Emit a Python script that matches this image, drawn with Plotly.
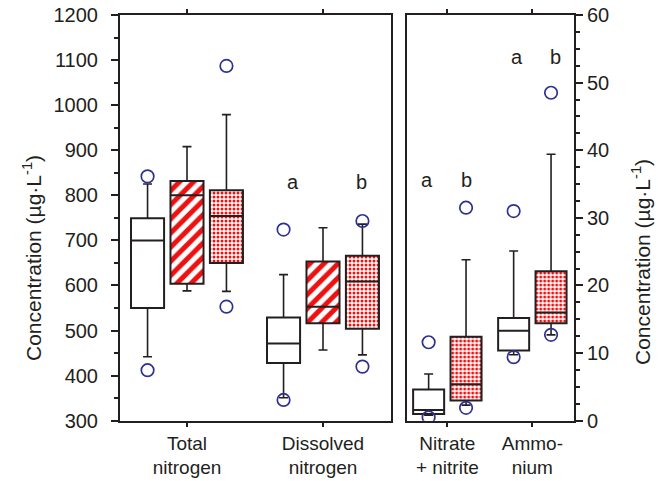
import plotly.graph_objects as go

# ---------------- data ----------------
left_categories = ["Total<br>nitrogen", "Dissolved<br>nitrogen"]
right_categories = ["Nitrate<br>+ nitrite", "Ammo-<br>nium"]

# Left panel (µg/L): values for [Total nitrogen, Dissolved nitrogen]
plain_low = [442, 351]
plain_q1 = [550, 428]
plain_med = [700, 471]
plain_q3 = [749, 529]
plain_high = [825, 624]
plain_out = [[842, 412], [724, 346]]

hatch_low = [588, 457]
hatch_q1 = [604, 516]
hatch_med = [800, 553]
hatch_q3 = [832, 653]
hatch_high = [908, 728]
hatch_out = [[], []]

dot_low = [587, 446]
dot_q1 = [650, 504]
dot_med = [754, 609]
dot_q3 = [811, 666]
dot_high = [979, 736]
dot_out = [[1087, 553], [743, 420]]

# Right panel (µg/L): values for [Nitrate + nitrite, Ammonium]
r_plain_low = [0.8, 9.75]
r_plain_q1 = [1.0, 10.4]
r_plain_med = [1.6, 13.3]
r_plain_q3 = [4.6, 15.2]
r_plain_high = [6.9, 25.1]
r_plain_out = [[11.6, 0.5], [31.0, 9.4]]

r_dot_low = [2.3, 12.7]
r_dot_q1 = [3.0, 14.4]
r_dot_med = [5.4, 16.0]
r_dot_q3 = [12.4, 22.1]
r_dot_high = [23.8, 39.4]
r_dot_out = [[31.5, 1.9], [48.5, 12.7]]

left_letters = ["a", "b"]
right_letters = ["a", "b", "a", "b"]
left_letter_y = [830, 830]
right_letter_y = [35.6, 35.6, 53.8, 53.8]

# ---------------- styling ----------------
FONT = "Liberation Sans, Arial, Helvetica, sans-serif"
RED = "#ee1111"
BLUE = "#2e3192"
INK = "#231f20"

W = 662
H = 481
L_DOM = [120 / W, 391 / W]
R_DOM = [406.7 / W, 574 / W]
Y_DOM = [1 - 420.7 / H, 1 - 15 / H]

fig = go.Figure()


def add_series(xa, ya, offset, width, cap, low, q1, med, q3, high, outs, pattern):
    xs = [i + offset for i in range(len(q1))]
    fig.add_trace(go.Bar(
        x=xs, y=[b - a for a, b in zip(q1, q3)], base=q1, width=[width] * len(xs),
        xaxis=xa, yaxis=ya, opacity=1,
        marker=dict(color="white", opacity=1, line=dict(color=INK, width=2), pattern=pattern),
        hoverinfo="skip"))
    wx, wy = [], []
    for x, lo, a, b, hi in zip(xs, low, q1, q3, high):
        wx += [x, x, None, x - cap, x + cap, None, x, x, None, x - cap, x + cap, None]
        wy += [b, hi, None, hi, hi, None, a, lo, None, lo, lo, None]
    fig.add_trace(go.Scatter(x=wx, y=wy, mode="lines", xaxis=xa, yaxis=ya,
                             line=dict(color=INK, width=1.6), hoverinfo="skip"))
    mx, my = [], []
    for x, m in zip(xs, med):
        mx += [x - width / 2, x + width / 2, None]
        my += [m, m, None]
    fig.add_trace(go.Scatter(x=mx, y=my, mode="lines", xaxis=xa, yaxis=ya,
                             line=dict(color=INK, width=2), hoverinfo="skip"))
    ox, oy = [], []
    for x, o in zip(xs, outs):
        ox += [x] * len(o)
        oy += list(o)
    if ox:
        fig.add_trace(go.Scatter(x=ox, y=oy, mode="markers", xaxis=xa, yaxis=ya,
                                 marker=dict(symbol="circle-open", size=12.5,
                                             color=BLUE, line=dict(width=1.7, color=BLUE)),
                                 hoverinfo="skip"))


no_pat = dict(shape="")
hatch_pat = dict(shape="/", fgcolor=RED, bgcolor="white", fgopacity=1, fillmode="replace",
                 size=10, solidity=0.5)
dot_pat = dict(shape=".", fgcolor=RED, bgcolor="white", fgopacity=1, fillmode="replace",
               size=4, solidity=0.45)

LW, LC = 0.243, 0.033
add_series("x", "y", -0.29, LW, LC, plain_low, plain_q1, plain_med, plain_q3, plain_high, plain_out, no_pat)
add_series("x", "y", 0.0, LW, LC, hatch_low, hatch_q1, hatch_med, hatch_q3, hatch_high, hatch_out, hatch_pat)
add_series("x", "y", 0.29, LW, LC, dot_low, dot_q1, dot_med, dot_q3, dot_high, dot_out, dot_pat)

RW, RC = 0.365, 0.053
add_series("x2", "y2", -0.22, RW, RC, r_plain_low, r_plain_q1, r_plain_med, r_plain_q3, r_plain_high, r_plain_out, no_pat)
add_series("x2", "y2", 0.22, RW, RC, r_dot_low, r_dot_q1, r_dot_med, r_dot_q3, r_dot_high, r_dot_out, dot_pat)

# significance letters
for x, y, t in zip([0.78, 1.28], left_letter_y, left_letters):
    fig.add_annotation(x=x, y=y, xref="x", yref="y", text=t, showarrow=False,
                       font=dict(size=20, color=INK, family=FONT))
for x, y, t in zip([-0.24, 0.22, 0.82, 1.27], right_letter_y, right_letters):
    fig.add_annotation(x=x, y=y, xref="x2", yref="y2", text=t, showarrow=False,
                       font=dict(size=20, color=INK, family=FONT))

ytitle = "Concentration (µg·L<sup>-1</sup>)"
fig.add_annotation(x=32 / W, y=1 - 258 / H, xref="paper", yref="paper", text=ytitle,
                   textangle=-90, showarrow=False, xanchor="center", yanchor="middle",
                   font=dict(size=21, color=INK, family=FONT))
fig.add_annotation(x=641 / W, y=1 - 262 / H, xref="paper", yref="paper", text=ytitle,
                   textangle=-90, showarrow=False, xanchor="center", yanchor="middle",
                   font=dict(size=21, color=INK, family=FONT))

xcommon = dict(showline=True, linecolor=INK, linewidth=2, mirror="ticks", ticks="outside",
               ticklen=4, tickwidth=1.5, tickcolor=INK, showgrid=False, zeroline=False,
               automargin=False,
               tickfont=dict(size=19, color=INK, family=FONT), tickvals=[0, 1])
ycommon = dict(showline=True, linecolor=INK, linewidth=2, mirror=True, ticks="outside",
               ticklen=7, tickwidth=1.5, tickcolor=INK, showgrid=False, zeroline=False,
               automargin=False,
               tickfont=dict(size=20, color=INK, family=FONT))

fig.update_layout(
    width=W, height=H, margin=dict(l=0, r=0, t=0, b=0, autoexpand=False),
    plot_bgcolor="white", paper_bgcolor="white", showlegend=False, barmode="overlay",
    font=dict(family=FONT, color=INK),
    xaxis=dict(domain=L_DOM, range=[-0.4926, 1.5], ticktext=left_categories, anchor="y", **xcommon),
    yaxis=dict(domain=Y_DOM, range=[300, 1200], tick0=300, dtick=100, anchor="x",
               ticklabelstandoff=9,
               minor=dict(ticks="outside", ticklen=4, dtick=50, tickcolor=INK, tickwidth=1.5),
               **ycommon),
    xaxis2=dict(domain=R_DOM, range=[-0.478, 1.49], ticktext=right_categories, anchor="y2", **xcommon),
    yaxis2=dict(domain=Y_DOM, range=[0, 60], tick0=0, dtick=10, anchor="x2", side="right",
                minor=dict(ticks="outside", ticklen=4, dtick=2.5, tickcolor=INK, tickwidth=1.5),
                **ycommon),
)

fig.write_html("out.html")
